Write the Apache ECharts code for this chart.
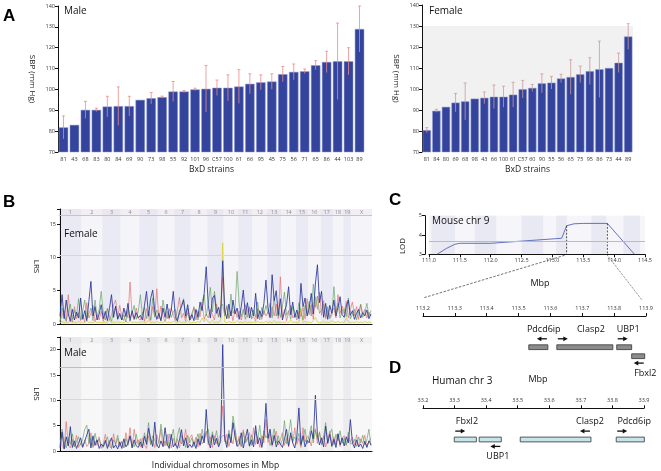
<!DOCTYPE html>
<html><head><meta charset="utf-8">
<script src="https://cdn.jsdelivr.net/npm/echarts@6/dist/echarts.min.js"></script>
<style>html,body{margin:0;padding:0;background:#fff}#c{width:661px;height:471px}</style>
</head><body><div id="c"></div>
<script>
// ---------- Panel A data ----------
const maleStrains = ['81','43','68','83','80','84','69','90','73','98','55','92','101','96','C57','100','61','66','95','45','75','56','71','65','86','44','103','89'];
const maleSBP = [81.8,83.0,90.2,90.2,91.8,92.0,92.0,95.0,95.8,96.3,99.0,99.0,100.0,100.3,100.8,100.8,101.4,102.7,103.4,103.8,107.3,108.4,108.7,111.6,113.2,113.5,113.5,129.0];
const maleErr = [5.5,0,4.1,0.8,4.9,9.2,4.7,0,2.7,0.5,4.8,0.5,0.6,11.2,3.7,6.2,8.1,4.8,3.6,3.7,3.7,3.8,1.1,2.2,5.1,18.3,6.5,11.0];
const femaleStrains = ['81','84','80','69','68','98','43','66','100','61','C57','60','90','55','56','65','75','95','86','73','44','89'];
const femaleSBP = [80.4,89.6,91.5,93.5,94.1,95.4,95.8,96.3,96.3,97.3,99.9,100.5,102.7,103.0,105.0,105.7,107.0,108.5,109.4,110.0,112.5,125.0];
const femaleErr = [1.2,0.7,0,4.4,8.8,0,2.8,5.6,5.0,5.9,4.2,1.7,4.5,3.0,2.0,8.2,3.9,6.4,13.4,0,4.6,6.1];
const femaleShadeRange = [70, 130];

// ---------- Panel B data ----------
const chrNames = ['1','2','3','4','5','6','7','8','9','10','11','12','13','14','15','16','17','18','19','X'];
const chrMarkers = [11,10,9,9,9,8,8,8,8,7,7,7,7,7,6,6,6,5,4,10];
const lrsFemaleBlue = [
 1.2,4.4,0.8,3.6,1.5,0.4,2.2,0.6,1.8,0.9,3.9,
 0.7,2.0,0.5,3.4,6.4,1.2,2.6,0.6,1.5,2.9,
 0.8,1.9,0.5,2.3,4.4,1.0,2.7,0.7,1.6,
 0.6,2.4,1.1,3.1,0.5,2.0,0.8,1.7,0.9,
 1.3,0.6,2.8,4.9,1.2,3.8,5.1,2.0,0.7,
 1.6,0.5,2.4,1.0,3.0,0.9,2.1,4.9,
 1.1,0.4,1.9,2.6,3.6,1.2,2.9,0.6,
 1.4,0.5,2.2,1.0,3.3,2.0,4.6,8.6,
 2.8,0.9,3.9,4.3,1.6,2.5,1.0,9.5,
 2.0,0.8,3.0,1.2,3.6,1.5,2.4,
 0.7,2.6,5.1,1.4,3.2,0.9,2.5,
 1.2,4.6,0.8,2.0,1.1,3.1,6.6,
 2.4,1.0,7.4,3.5,5.0,1.3,3.8,
 0.6,1.8,2.9,5.6,1.4,3.3,1.0,
 2.1,0.8,6.1,2.6,3.9,1.2,
 2.3,4.6,1.5,6.0,8.9,3.2,
 4.9,1.0,3.1,0.7,2.8,1.6,
 3.6,1.2,2.5,4.1,1.4,
 1.0,2.6,3.6,1.3,
 2.0,0.7,1.6,2.2,0.9,1.7,1.2,2.1,0.8,1.5];
const lrsFemaleRed = [
 0.5,1.2,2.0,0.4,4.4,1.0,0.3,2.6,0.8,1.7,0.5,
 1.4,0.3,3.2,0.9,1.6,2.8,0.4,1.3,0.6,1.9,
 0.4,1.5,2.2,0.6,1.3,2.9,3.6,1.0,2.8,
 1.1,0.5,2.0,0.9,6.3,1.4,0.6,2.4,0.8,
 0.6,1.8,0.4,2.3,1.0,0.5,2.6,1.2,5.3,
 0.8,2.7,1.1,0.4,1.9,0.7,2.4,1.3,
 0.5,2.1,4.0,0.9,1.6,0.4,2.4,0.8,
 1.6,2.4,0.6,2.0,1.1,3.2,0.7,1.5,
 0.9,2.2,1.4,0.6,3.0,1.1,2.3,7.0,
 1.5,2.6,0.8,1.9,0.5,2.2,1.0,
 2.0,0.6,1.8,2.9,1.0,2.4,0.8,
 1.1,0.4,2.3,1.6,0.7,2.0,1.2,
 1.8,0.9,2.6,1.2,3.0,0.8,7.1,
 1.0,2.2,0.5,1.7,2.8,0.9,1.4,
 0.6,1.9,1.1,2.5,0.8,3.8,
 1.4,2.9,0.7,4.1,2.2,4.8,
 1.3,3.5,0.8,2.1,1.0,1.8,
 2.4,0.9,4.4,1.6,2.7,
 1.5,3.4,0.9,2.2,
 3.3,1.2,2.6,0.7,3.0,1.5,2.2,0.9,1.8,1.1];
const lrsFemaleGreen = [
 0.3,2.4,1.0,0.5,1.8,3.0,0.7,2.1,1.2,3.8,0.6,
 1.9,3.6,0.8,1.5,2.4,0.5,3.6,1.1,2.2,4.9,
 1.7,0.6,2.4,1.2,0.4,1.9,2.5,0.8,1.3,
 0.6,1.4,0.3,2.2,0.9,1.6,2.8,0.7,1.9,
 4.4,1.3,2.5,0.8,1.9,0.6,3.9,1.0,2.1,
 1.2,0.5,3.6,1.7,0.8,2.3,1.0,1.8,
 2.2,0.7,1.5,2.9,3.8,0.9,1.7,0.5,
 1.0,2.6,1.5,0.6,2.0,3.4,4.4,1.2,
 3.1,5.5,1.8,4.9,2.3,1.0,2.6,3.0,
 1.2,2.8,0.9,4.5,1.6,2.4,7.9,
 3.0,1.1,2.2,0.7,1.9,2.6,0.8,
 2.1,1.0,3.3,0.6,2.5,1.4,2.8,
 1.5,3.1,0.9,4.1,1.2,2.4,1.0,
 2.7,4.8,1.3,2.0,0.7,2.6,1.8,
 1.0,3.2,1.8,0.6,2.8,1.5,
 3.4,1.2,6.0,2.5,4.2,1.6,
 2.1,3.0,1.1,2.6,0.8,1.4,
 5.6,1.8,3.1,0.9,2.0,
 2.3,1.1,3.9,0.8,
 1.4,2.2,0.6,1.8,2.9,1.0,1.6,3.1,1.2,2.0];
const lrsFemaleYellow = [
 0.2,0.4,0.2,0.3,0.2,0.5,0.2,0.3,0.2,0.4,0.2,
 0.3,0.2,0.5,0.2,0.3,0.2,0.4,0.2,0.3,0.2,
 0.2,0.3,0.2,0.6,0.2,0.3,0.2,0.4,0.2,
 0.3,0.2,0.4,0.2,0.5,0.2,0.3,0.2,0.3,
 0.2,0.4,0.2,0.3,0.6,0.2,0.3,0.2,0.4,
 0.2,0.3,0.2,0.5,0.2,0.3,0.2,0.4,
 0.3,0.2,0.4,0.2,0.3,0.2,0.5,0.2,
 0.2,0.3,0.2,0.4,0.2,0.9,0.3,0.8,
 0.3,0.2,0.5,0.2,0.3,0.2,0.6,12.2,
 0.3,0.2,0.4,0.2,0.3,0.2,0.5,
 0.2,0.3,0.2,0.4,0.2,0.3,0.2,
 0.3,0.2,0.4,0.2,0.3,0.2,0.4,
 0.2,0.3,0.2,0.5,0.2,0.3,0.2,
 0.3,0.2,0.4,0.2,0.6,0.2,0.3,
 0.2,0.3,2.4,0.2,0.4,0.2,
 0.3,0.2,0.5,1.0,0.3,0.2,
 0.2,0.4,0.2,0.3,0.2,0.5,
 0.3,0.2,0.4,0.2,0.3,
 0.2,0.9,0.3,0.2,
 0.3,0.2,0.4,0.2,0.3,0.2,0.4,0.2,0.3,0.2];
const lrsMaleBlue = [
 0.6,3.7,0.4,2.8,1.0,4.8,0.7,2.0,0.5,1.5,2.6,
 0.8,1.9,3.2,4.3,0.6,3.0,1.1,2.2,0.5,1.4,
 0.9,2.1,0.5,1.6,2.6,0.6,1.2,0.4,1.8,
 0.5,2.4,0.8,1.5,3.0,0.6,2.2,1.0,0.7,
 1.8,0.6,2.9,1.3,4.5,2.4,0.9,5.7,1.2,
 0.6,2.0,0.9,4.6,1.4,0.5,3.3,0.8,
 1.5,0.5,2.2,4.2,1.0,2.6,0.6,1.3,
 0.7,1.8,0.5,2.4,1.1,3.0,1.6,8.2,
 2.0,0.6,3.2,1.2,2.5,0.8,1.9,21.0,
 2.4,0.7,3.4,1.6,5.6,2.8,0.9,
 1.3,3.6,0.6,2.5,4.3,1.0,2.2,
 0.8,5.0,1.4,2.6,0.7,3.1,9.4,
 2.5,4.3,1.2,3.1,0.8,2.0,1.4,
 0.7,2.4,4.3,1.0,3.6,1.6,0.6,
 2.9,8.5,1.3,3.0,0.8,2.1,
 1.6,4.0,2.4,11.0,3.2,1.2,
 2.6,0.8,4.9,1.5,3.3,0.9,
 2.3,0.7,3.4,1.2,2.6,
 1.0,2.8,1.6,6.2,
 1.6,0.6,2.2,0.8,1.4,0.5,1.9,0.7,2.0,1.2];
const lrsMaleRed = [
 2.4,1.0,0.5,5.8,1.2,0.6,2.3,0.9,3.1,0.7,1.5,
 0.6,2.2,0.9,1.4,3.6,0.7,2.0,1.1,2.8,0.5,
 1.4,3.3,0.8,2.1,0.5,3.4,1.2,2.5,0.9,
 2.0,0.7,3.6,1.3,4.6,0.9,4.3,1.5,2.2,
 0.8,2.6,1.2,0.5,3.0,1.4,2.1,0.7,3.2,
 1.6,4.3,0.8,2.0,1.1,3.4,0.6,2.5,
 1.0,2.4,0.6,3.1,1.8,4.3,0.9,2.6,
 3.2,1.3,2.7,0.8,3.5,1.4,2.0,3.9,
 1.2,2.8,0.7,3.0,1.5,2.3,3.4,8.9,
 1.8,3.3,0.9,2.6,1.4,4.1,1.0,
 2.9,0.8,4.2,1.6,2.4,3.6,1.1,
 4.6,1.3,2.8,0.7,3.0,1.6,6.2,
 1.7,3.4,0.9,2.5,3.9,1.2,2.2,
 3.6,1.1,2.6,0.8,3.1,1.7,4.6,
 1.3,2.5,0.7,4.6,1.8,2.9,
 2.4,1.0,3.5,4.4,1.5,3.8,
 1.2,3.0,0.8,2.2,3.9,1.4,
 2.8,1.3,3.4,0.9,2.4,
 3.0,1.2,2.6,1.8,
 2.7,1.1,3.2,0.9,2.4,1.5,3.1,0.8,1.9,2.6];
const lrsMaleGreen = [
 1.0,4.3,1.8,0.6,2.7,1.3,3.4,0.8,1.9,2.8,1.2,
 2.3,4.3,5.1,1.5,2.6,0.9,3.5,1.7,2.4,1.0,
 0.7,1.6,2.8,1.0,0.5,2.2,1.4,3.1,0.9,
 1.8,0.6,2.5,1.1,2.9,1.4,0.8,3.3,1.2,
 2.4,1.0,3.6,1.8,5.6,1.2,3.0,2.2,0.9,
 1.7,5.3,2.5,1.0,3.3,0.8,2.4,4.3,
 1.1,3.0,4.6,1.4,2.2,0.7,3.1,1.6,
 2.6,0.9,2.0,3.4,1.3,4.3,2.1,3.6,
 4.3,1.5,3.8,2.0,4.0,1.2,2.6,3.0,
 3.1,1.4,4.1,2.3,6.9,4.4,1.7,
 2.4,1.0,3.8,1.6,2.7,0.9,3.2,
 1.5,3.9,2.2,5.1,1.3,4.0,2.6,
 3.4,1.1,2.4,4.4,1.6,3.0,1.2,
 2.2,6.0,1.4,3.3,6.2,1.9,2.8,
 1.8,3.5,1.0,2.6,4.3,1.4,
 3.2,5.0,1.6,4.1,2.3,3.6,
 1.4,2.8,5.6,1.7,3.5,4.3,
 1.2,3.3,2.0,4.0,1.5,
 2.5,1.1,3.7,1.4,
 1.5,2.3,0.9,2.8,1.6,3.1,1.2,2.2,4.3,1.0];
const femaleThresholds = [16.3, 10.3];
const maleThresholds = [16.5, 10.3];

// ---------- Panel C data ----------
const lodPos = [111.13,111.28,111.42,111.5,112.0,113.15,113.18,113.23,113.35,113.5,113.89,114.33];
const lodVal = [3.0,3.3,3.52,3.57,3.57,3.83,3.83,4.48,4.58,4.6,4.6,3.0];
const lodThreshold = 3.67;
const ciBounds = [113.23, 113.89];
const lodStripes = [[111.04,111.42],[111.74,112.09],[112.5,112.85],[113.06,113.23],[113.63,113.87],[114.15,114.42]];

const mouseGeneNames = ['Pdcd6ip','Clasp2','UBP1','Fbxl2'];
const mouseGeneStart = [113.532,113.620,113.808,113.855];
const mouseGeneEnd = [113.592,113.796,113.855,113.896];
const mouseGeneStrand = [-1,1,1,-1];
const mouseGeneLane = [0,0,0,1];
const mouseGeneLabelAt = [113.579,113.727,113.844,113.898];
const mouseGeneLabelSide = [1,1,1,-1];

// ---------- Panel D data ----------
const humanGeneNames = ['Fbxl2','UBP1','Clasp2','Pdcd6ip'];
const humanGeneStart = [33.299,33.378,33.508,33.812];
const humanGeneEnd = [33.369,33.448,33.732,33.901];
const humanGeneStrand = [1,-1,-1,1];
const humanGeneLane = [0,0,0,0];
const humanGeneLabelAt = [33.339,33.437,33.729,33.869];
const humanGeneLabelSide = [1,-1,1,1];

// ---------- chart ----------
const F = "'Open Sans','DejaVu Sans',sans-serif";
const tickTxt = {fontSize:5.5, color:'#333', fontFamily:F, margin:3};
const chart = echarts.init(document.getElementById('c'));
const nMarkers = chrMarkers.reduce((a,b)=>a+b,0);
const chrBands = (()=>{let s=-0.5; return chrMarkers.map((n,i)=>{const d=[s,s+n,i]; s+=n; return d;});})();
const xy = arr => arr.map((v,i)=>[i,v]);

function errRender(color){ return (params, api) => {
  const i=api.value(0), v=api.value(1), e=api.value(2);
  if(!e) return null;
  const t=api.coord([i,v+e]), b=api.coord([i,v-e]);
  const st={stroke:color,lineWidth:0.8};
  return {type:'group',children:[
    {type:'line',shape:{x1:t[0],y1:t[1],x2:b[0],y2:b[1]},style:st},
    {type:'line',shape:{x1:t[0]-1.5,y1:t[1],x2:t[0]+1.5,y2:t[1]},style:st}]};
};}
function shadeRender(params, api){
  const cs=params.coordSys;
  const y0=api.coord([0,api.value(1)])[1], y1=api.coord([0,api.value(2)])[1];
  return {type:'rect',shape:{x:cs.x,y:y1,width:cs.width,height:y0-y1},style:{fill:'#f1f1f1'}};
}
function bandRender(o){ return (params, api) => {
  const cs=params.coordSys;
  const a=api.coord([api.value(0),0])[0], b=api.coord([api.value(1),0])[0];
  const i=api.value(2);
  const hy=api.coord([0,o.header])[1];
  return {type:'group',children:[
    {type:'rect',shape:{x:a,y:cs.y,width:b-a,height:cs.height},style:{fill:i%2===0?o.c1:o.c2}},
    {type:'rect',shape:{x:a,y:cs.y,width:b-a,height:hy-cs.y},style:{fill:i%2===0?o.h1:o.h2}},
    {type:'text',style:{text:chrNames[i],x:(a+b)/2,y:(cs.y+hy)/2,align:'center',verticalAlign:'middle',fontSize:5.5,fill:'#8c8c9c',fontFamily:F}}]};
};}
function stripeRender(params, api){
  const cs=params.coordSys;
  const a=api.coord([api.value(0),4])[0], b=api.coord([api.value(1),4])[0];
  return {type:'rect',shape:{x:a,y:cs.y,width:b-a,height:cs.height},style:{fill:'#e9e9f3'}};
}
function ciRender(params, api){
  const cs=params.coordSys;
  const p=api.coord([api.value(0),api.value(1)]);
  return {type:'line',shape:{x1:p[0],y1:p[1],x2:p[0],y2:cs.y+cs.height},style:{stroke:'#222',lineWidth:0.8,lineDash:[2,1.5]}};
}
function geneRender(names, fill){ return (params, api) => {
  const cs=params.coordSys;
  const x0=api.coord([api.value(0),1])[0], x1=api.coord([api.value(1),1])[0];
  const lane=api.value(2), lx=api.coord([api.value(3),1])[0], strand=api.value(4), side=api.value(5);
  const h=4.8, top=cs.y+28.8+lane*9;
  const ay = side>0 ? top-6 : top+h+4.5;
  const ly = side>0 ? top-15.5 : top+h+15;
  const L=10;
  let tail, head;
  if(strand>0){ tail=x0+1; head=x0+1+L; } else { tail=x1-1; head=x1-1-L; }
  const d = strand>0 ? -4.5 : 4.5;
  return {type:'group',children:[
    {type:'rect',shape:{x:x0,y:top,width:x1-x0,height:h},style:{fill:fill,stroke:'#333',lineWidth:0.8}},
    {type:'line',shape:{x1:tail,y1:ay,x2:head+d*0.6,y2:ay},style:{stroke:'#111',lineWidth:1.3}},
    {type:'polygon',shape:{points:[[head,ay],[head+d,ay-2.4],[head+d,ay+2.4]]},style:{fill:'#111'}},
    {type:'text',style:{text:names[params.dataIndex],x:lx,y:ly,align:'center',verticalAlign:'middle',fontSize:9,fill:'#111',fontFamily:F}}]};
};}

const lrsLine = (name, data, color, x, y, z, extra) => Object.assign({
  type:'line', name, xAxisIndex:x, yAxisIndex:y, data:xy(data), showSymbol:false, symbol:'none',
  lineStyle:{color, width:0.85}, z, silent:true }, extra||{});
const thrMark = (vals, colors) => ({silent:true, symbol:'none', label:{show:false},
  data: vals.map((v,k)=>({yAxis:v, lineStyle:{color:colors[k], width:1, type:'solid'}}))});
const geneAxis = (grid, min, max) => ({type:'value', gridIndex:grid, position:'top', min, max, interval:0.1, splitLine:{show:false},
  axisLine:{onZero:false, lineStyle:{color:'#111'}}, axisTick:{length:3, lineStyle:{color:'#111'}},
  axisLabel:Object.assign({}, tickTxt, {margin:5, formatter:v=>v.toFixed(1)})});

const option = {
  animation:false,
  grid:[
    {left:58, top:6, width:307, height:146},
    {left:422, top:5, width:211, height:147},
    {left:59, top:209, width:313, height:115},
    {left:59, top:337, width:313, height:115},
    {left:429, top:215.7, width:216, height:38.6, show:true, backgroundColor:'#f5f5fa', borderWidth:0},
    {left:423, top:316, width:223, height:60},
    {left:423, top:408.3, width:221, height:50}
  ],
  xAxis:[
    {type:'category', gridIndex:0, data:maleStrains, axisLine:{show:false}, axisTick:{show:false},
     axisLabel:Object.assign({}, tickTxt, {interval:0, margin:4}),
     name:'BxD strains', nameLocation:'middle', nameGap:13, nameTextStyle:{fontSize:8.5, fontFamily:F, color:'#222'}},
    {type:'category', gridIndex:1, data:femaleStrains, axisLine:{show:false}, axisTick:{show:false},
     axisLabel:Object.assign({}, tickTxt, {interval:0, margin:4}),
     name:'BxD strains', nameLocation:'middle', nameGap:13, nameTextStyle:{fontSize:8.5, fontFamily:F, color:'#222'}},
    {type:'value', gridIndex:2, min:-0.5, max:nMarkers-0.5, axisLabel:{show:false}, axisTick:{show:false}, splitLine:{show:false}, axisLine:{onZero:false, lineStyle:{color:'#111', width:1}}},
    {type:'value', gridIndex:3, min:-0.5, max:nMarkers-0.5, axisLabel:{show:false}, axisTick:{show:false}, splitLine:{show:false}, axisLine:{onZero:false, lineStyle:{color:'#111', width:1}},
     name:'Individual chromosomes in Mbp', nameLocation:'middle', nameGap:10, nameTextStyle:{fontSize:8.5, fontFamily:F, color:'#222'}},
    {type:'value', gridIndex:4, min:111, max:114.5, interval:0.5, splitLine:{show:false},
     axisLine:{onZero:false, lineStyle:{color:'#111'}}, axisTick:{length:3, lineStyle:{color:'#111'}},
     axisLabel:Object.assign({}, tickTxt, {formatter:v=>v.toFixed(1)})},
    geneAxis(5, 113.2, 113.9),
    geneAxis(6, 33.2, 33.9)
  ],
  yAxis:[
    {type:'value', gridIndex:0, min:70, max:140, interval:10, splitLine:{show:false},
     axisLine:{show:true, lineStyle:{color:'#111'}}, axisTick:{show:true, length:3, lineStyle:{color:'#111'}}, axisLabel:tickTxt,
     name:'SBP (mm Hg)', nameLocation:'middle', nameRotate:-90, nameGap:22, nameTextStyle:{fontSize:8, fontFamily:F, color:'#222'}},
    {type:'value', gridIndex:1, min:70, max:140, interval:10, splitLine:{show:false},
     axisLine:{show:true, lineStyle:{color:'#111'}}, axisTick:{show:true, length:3, lineStyle:{color:'#111'}}, axisLabel:tickTxt,
     name:'SBP (mm Hg)', nameLocation:'middle', nameRotate:-90, nameGap:22, nameTextStyle:{fontSize:8, fontFamily:F, color:'#222'}},
    {type:'value', gridIndex:2, min:0, max:17.27, interval:5, splitLine:{show:false},
     axisLine:{show:true, lineStyle:{color:'#111'}}, axisTick:{show:true, length:3, lineStyle:{color:'#111'}},
     axisLabel:Object.assign({}, tickTxt, {formatter:v=>v%5===0?v:''}),
     name:'LRS', nameLocation:'middle', nameRotate:-90, nameGap:19, nameTextStyle:{fontSize:8, fontFamily:F, color:'#222'}},
    {type:'value', gridIndex:3, min:0, max:22.5, interval:5, splitLine:{show:false},
     axisLine:{show:true, lineStyle:{color:'#111'}}, axisTick:{show:true, length:3, lineStyle:{color:'#111'}},
     axisLabel:Object.assign({}, tickTxt, {formatter:v=>v%5===0?v:''}),
     name:'LRS', nameLocation:'middle', nameRotate:-90, nameGap:19, nameTextStyle:{fontSize:8, fontFamily:F, color:'#222'}},
    {type:'value', gridIndex:4, min:3, max:5, interval:1, offset:4, splitLine:{show:false},
     axisLine:{show:true, lineStyle:{color:'#111'}}, axisTick:{show:true, length:3, lineStyle:{color:'#111'}}, axisLabel:tickTxt},
    {type:'value', gridIndex:5, min:0, max:1, show:false},
    {type:'value', gridIndex:6, min:0, max:1, show:false}
  ],
  series:[
    {type:'custom', xAxisIndex:1, yAxisIndex:1, data:[[0, femaleShadeRange[0], femaleShadeRange[1]]], renderItem:shadeRender, z:0, silent:true},
    {type:'bar', xAxisIndex:0, yAxisIndex:0, data:maleSBP, barCategoryGap:'14%',
     itemStyle:{color:'#34449c', borderColor:'#8f9bd6', borderWidth:0.5}, z:2, silent:true},
    {type:'custom', xAxisIndex:0, yAxisIndex:0, data:maleSBP.map((v,i)=>[i,v,maleErr[i]]), renderItem:errRender('#e98b8b'), z:3, silent:true},
    {type:'bar', xAxisIndex:1, yAxisIndex:1, data:femaleSBP, barCategoryGap:'14%',
     itemStyle:{color:'#34449c', borderColor:'#8f9bd6', borderWidth:0.5}, z:2, silent:true},
    {type:'custom', xAxisIndex:1, yAxisIndex:1, data:femaleSBP.map((v,i)=>[i,v,femaleErr[i]]), renderItem:errRender('#c99a9a'), z:3, silent:true},
    {type:'custom', xAxisIndex:2, yAxisIndex:2, data:chrBands, silent:true, z:0,
     renderItem:bandRender({header:16.3, c1:'#eaeaf4', c2:'#f5f5f9', h1:'#ebe6ef', h2:'#f2eef4'})},
    lrsLine('fy', lrsFemaleYellow, '#d9d23a', 2, 2, 1),
    lrsLine('fr', lrsFemaleRed, 'rgba(228,110,110,0.8)', 2, 2, 2),
    lrsLine('fg', lrsFemaleGreen, 'rgba(100,160,100,0.8)', 2, 2, 3),
    lrsLine('fb', lrsFemaleBlue, '#28359a', 2, 2, 4, {markLine:thrMark(femaleThresholds, ['#e9b3c3','#d9d3de'])}),
    {type:'custom', xAxisIndex:3, yAxisIndex:3, data:chrBands, silent:true, z:0,
     renderItem:bandRender({header:21.2, c1:'#ececef', c2:'#f7f7f7', h1:'#e9e9ec', h2:'#f1f1f1'})},
    lrsLine('mr', lrsMaleRed, 'rgba(228,110,110,0.8)', 3, 3, 2),
    lrsLine('mg', lrsMaleGreen, 'rgba(100,160,100,0.8)', 3, 3, 3),
    lrsLine('mb', lrsMaleBlue, '#28359a', 3, 3, 4, {markLine:thrMark(maleThresholds, ['#eeaaaa','#dcd6d6'])}),
    {type:'custom', xAxisIndex:4, yAxisIndex:4, data:lodStripes, renderItem:stripeRender, z:0, silent:true},
    {type:'line', xAxisIndex:4, yAxisIndex:4, data:lodPos.map((p,i)=>[p,lodVal[i]]), showSymbol:false, symbol:'none',
     lineStyle:{color:'#5565b5', width:0.9}, z:3, silent:true, clip:true,
     markLine:{silent:true, symbol:'none', label:{show:false}, data:[{yAxis:lodThreshold, lineStyle:{color:'#f0a4a4', width:1, type:'solid'}}]}},
    {type:'custom', xAxisIndex:4, yAxisIndex:4, data:ciBounds.map(b=>[b, lodVal[lodPos.indexOf(b)]]), renderItem:ciRender, z:4, silent:true},
    {type:'custom', xAxisIndex:5, yAxisIndex:5, silent:true, z:3,
     data:mouseGeneNames.map((n,i)=>[mouseGeneStart[i],mouseGeneEnd[i],mouseGeneLane[i],mouseGeneLabelAt[i],mouseGeneStrand[i],mouseGeneLabelSide[i]]),
     renderItem:geneRender(mouseGeneNames, '#8c8c8c')},
    {type:'custom', xAxisIndex:6, yAxisIndex:6, silent:true, z:3,
     data:humanGeneNames.map((n,i)=>[humanGeneStart[i],humanGeneEnd[i],humanGeneLane[i],humanGeneLabelAt[i],humanGeneStrand[i],humanGeneLabelSide[i]]),
     renderItem:geneRender(humanGeneNames, '#c6e5eb')}
  ]
};
chart.setOption(option);

const pA = chart.convertToPixel({gridIndex:4}, [ciBounds[0], 3]);
const pB = chart.convertToPixel({gridIndex:4}, [ciBounds[1], 3]);
const gL = chart.convertToPixel({gridIndex:5}, [113.2, 1]);
const gR = chart.convertToPixel({gridIndex:5}, [113.9, 1]);
const T = (text, x, y, size, extra) => ({type:'text', x, y, style:Object.assign({text, fontSize:size, fontFamily:F, fill:'#111', align:'left', verticalAlign:'middle'}, extra||{}), z:10, silent:true});
const B = (text, x, y) => ({type:'text', x, y, style:{text, fontSize:17, fontWeight:'bold', fontFamily:"'Liberation Sans',Arial,sans-serif", fill:'#000', verticalAlign:'middle'}, z:10, silent:true});
chart.setOption({graphic:[
  B('A', 3, 16), B('B', 3, 202), B('C', 389, 200), B('D', 389, 368),
  T('Male', 64, 11.5, 10), T('Female', 429, 11.5, 10),
  T('Female', 64, 234, 10), T('Male', 64, 353, 10),
  T('Mouse chr 9', 432, 221, 10),
  T('Mbp', 540, 283, 9, {align:'center'}),
  T('Human chr 3', 432, 381.5, 10),
  T('Mbp', 538, 379, 9, {align:'center'}),
  {type:'text', x:403, y:246, rotation:Math.PI/2, style:{text:'LOD', fontSize:8, fontFamily:F, fill:'#222', align:'center', verticalAlign:'middle'}, z:10, silent:true},
  {type:'line', shape:{x1:pA[0]-2, y1:pA[1]+1, x2:gL[0], y2:gL[1]-18}, style:{stroke:'#333', lineWidth:0.7, lineDash:[2.5,1.5]}, z:10, silent:true},
  {type:'line', shape:{x1:pB[0], y1:pB[1]+1, x2:gR[0]-4, y2:gR[1]-16}, style:{stroke:'#333', lineWidth:0.7, lineDash:[1,1]}, z:10, silent:true}
]});
</script></body></html>
